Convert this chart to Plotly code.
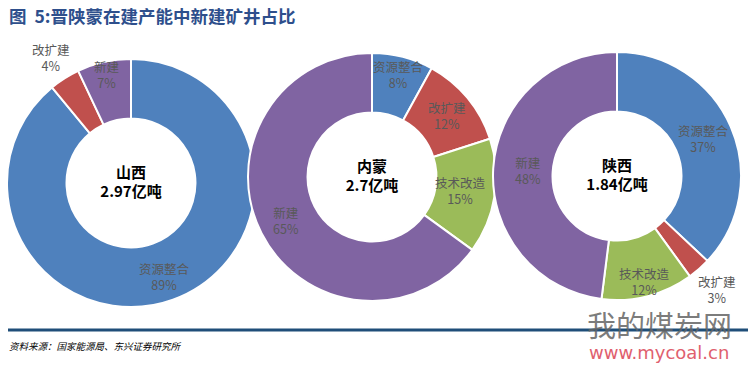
import math
import plotly.graph_objects as go

# ---- data ----
regions = ["山西", "内蒙", "陕西"]
capacities = ["2.97亿吨", "2.7亿吨", "1.84亿吨"]

sx_labels = ["资源整合", "改扩建", "新建"]
sx_values = [89, 4, 7]

nm_labels = ["资源整合", "改扩建", "技术改造", "新建"]
nm_values = [8, 12, 15, 65]

shx_labels = ["资源整合", "改扩建", "技术改造", "新建"]
shx_values = [37, 3, 12, 48]

color_map = {"资源整合": "#4F81BD", "改扩建": "#C0504D", "技术改造": "#9BBB59", "新建": "#8064A2"}

W, H = 756, 371
FONT = "Noto Sans CJK SC"
LABEL_COLOR = "#595959"

# layout geometry (pixel centers / radius) and label radial factors (style)
centers = [(131, 183), (372, 177), (617, 176)]
R = 124
label_rf = [
    [0.80, 1.20, 0.90],
    [0.85, 0.78, 0.72, 0.78],
    [0.76, 1.22, 0.88, 0.72],
]

def dom(cx, cy, r):
    return dict(x=[(cx - r) / W, (cx + r) / W],
                y=[(H - cy - r) / H, (H - cy + r) / H])

series = [
    (sx_labels, sx_values),
    (nm_labels, nm_values),
    (shx_labels, shx_values),
]

fig = go.Figure()
annotations = []
for i, (labels, values) in enumerate(series):
    cx, cy = centers[i]
    fig.add_trace(go.Pie(
        labels=labels,
        values=values,
        hole=0.52,
        sort=False,
        direction="clockwise",
        rotation=0,
        marker=dict(colors=[color_map[l] for l in labels],
                    line=dict(color="white", width=2)),
        textinfo="none",
        title=dict(text=f"<b>{regions[i]}<br>{capacities[i]}</b>",
                   position="middle center",
                   font=dict(family=FONT, size=15, color="#000000")),
        domain=dom(cx, cy, R),
        showlegend=False,
        hoverinfo="label+percent",
    ))
    # slice labels placed at each slice's mid-angle (derived from the values)
    total = sum(values)
    cum = 0
    for j, (lab, v) in enumerate(zip(labels, values)):
        theta = 2 * math.pi * (cum + v / 2) / total
        cum += v
        rr = label_rf[i][j] * R
        px = cx + rr * math.sin(theta)
        py = cy - rr * math.cos(theta)
        annotations.append(dict(
            text=f"{lab}<br>{v}%", xref="paper", yref="paper",
            x=px / W, y=(H - py) / H, xanchor="center", yanchor="middle",
            showarrow=False, align="center",
            font=dict(family=FONT, size=12.5, color=LABEL_COLOR)))

annotations += [
    dict(text="<b>图\u00a0\u00a05:晋陕蒙在建产能中新建矿井占比</b>",
         xref="paper", yref="paper", x=7 / W, y=(H - 15) / H,
         xanchor="left", yanchor="middle", showarrow=False,
         font=dict(family=FONT, size=17.5, color="#2E4F8C")),
    dict(text="<i>资料来源：国家能源局、东兴证券研究所</i>",
         xref="paper", yref="paper", x=7 / W, y=(H - 346) / H,
         xanchor="left", yanchor="middle", showarrow=False,
         font=dict(family=FONT, size=9.5, color="#000000")),
    dict(text="我的煤炭网",
         xref="paper", yref="paper", x=659 / W, y=(H - 324) / H,
         xanchor="center", yanchor="middle", showarrow=False,
         font=dict(family=FONT, size=29, color="rgba(100,100,100,0.85)")),
    dict(text="www.mycoal.cn",
         xref="paper", yref="paper", x=659 / W, y=(H - 352) / H,
         xanchor="center", yanchor="middle", showarrow=False,
         font=dict(family="DejaVu Sans", size=18, color="#E0606E")),
]

fig.update_layout(
    width=W, height=H,
    margin=dict(l=0, r=0, t=0, b=0),
    paper_bgcolor="white",
    plot_bgcolor="white",
    showlegend=False,
    shapes=[
        dict(type="line", xref="paper", yref="paper",
             x0=8 / W, x1=748 / W, y0=(H - 330) / H, y1=(H - 330) / H,
             line=dict(color="#1F4E79", width=3)),
    ],
    annotations=annotations,
)

fig.write_html("out.html",
               config={"displayModeBar": False},
               post_script="document.body.style.margin='0';document.body.style.overflow='hidden';")
